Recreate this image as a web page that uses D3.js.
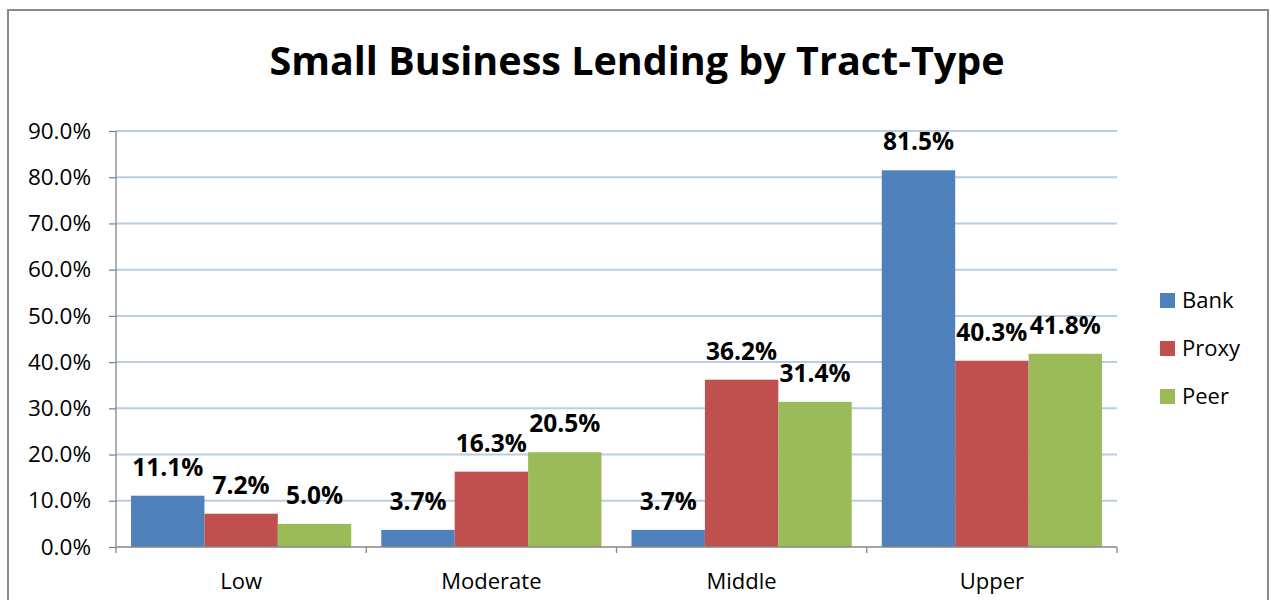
<!DOCTYPE html>
<html>
<head>
<meta charset="utf-8">
<script src="https://cdn.jsdelivr.net/npm/d3@7"></script>
<style>
  html, body { margin: 0; padding: 0; background: #ffffff; }
  svg { display: block; }
  text { font-family: "Open Sans", "Noto Sans", sans-serif; fill: #000; }
</style>
</head>
<body>
<svg id="chart" width="1271" height="600"></svg>
<script>
// Tract-type categories and lending shares per series
const categories = ["Low", "Moderate", "Middle", "Upper"];
const seriesNames = ["Bank", "Proxy", "Peer"];
const bankValues  = [11.1, 3.7, 3.7, 81.5];
const proxyValues = [7.2, 16.3, 36.2, 40.3];
const peerValues  = [5.0, 20.5, 31.4, 41.8];
const yTicks = [0, 10, 20, 30, 40, 50, 60, 70, 80, 90];
const seriesColors = ["#4F81BD", "#C0504D", "#9BBB59"];

const seriesValues = [bankValues, proxyValues, peerValues];
const rows = categories.map((c, i) => ({
  category: c,
  values: seriesNames.map((s, j) => ({ series: s, value: seriesValues[j][i] }))
}));

const svg = d3.select("#chart");

// Chart frame
svg.append("rect")
  .attr("x", 8).attr("y", 10)
  .attr("width", 1260).attr("height", 600)
  .attr("fill", "none")
  .attr("stroke", "#8a8a8a")
  .attr("stroke-width", 2);

// Title
svg.append("text")
  .attr("x", 637).attr("y", 75)
  .attr("text-anchor", "middle")
  .style("font-size", "39.5px")
  .style("font-weight", "700")
  .text("Small Business Lending by Tract-Type");

const plot = { left: 116, right: 1117, top: 131, bottom: 547 };

const x = d3.scaleBand().domain(categories).range([plot.left, plot.right]).padding(0);
const x1 = d3.scaleBand().domain(seriesNames)
  .range([x.bandwidth() * 0.06, x.bandwidth() * 0.94]).padding(0);
const y = d3.scaleLinear().domain([0, 90]).range([plot.bottom, plot.top]);
const color = d3.scaleOrdinal().domain(seriesNames).range(seriesColors);

// Horizontal gridlines
svg.append("g")
  .selectAll("line")
  .data(yTicks.filter(t => t > 0))
  .join("line")
  .attr("x1", plot.left).attr("x2", plot.right)
  .attr("y1", d => y(d)).attr("y2", d => y(d))
  .attr("stroke", "#B9CDE5")
  .attr("stroke-width", 2);

// Y axis
const yAxis = svg.append("g")
  .attr("transform", `translate(${plot.left},0)`)
  .call(d3.axisLeft(y).tickValues(yTicks).tickSize(7).tickPadding(18)
    .tickFormat(d => d.toFixed(1) + "%"));
yAxis.select(".domain").attr("stroke", "#868686").attr("stroke-width", 1.3)
  .attr("d", `M0,${plot.top}V${plot.bottom + 6}`);
yAxis.selectAll(".tick line").attr("stroke", "#868686").attr("stroke-width", 1.3);
yAxis.selectAll(".tick text")
  .style("font-size", "22.5px")
  .style("font-family", "'Open Sans', sans-serif")
  .attr("fill", "#000");

// Bars
const groups = svg.append("g")
  .selectAll("g")
  .data(rows)
  .join("g")
  .attr("transform", d => `translate(${x(d.category)},0)`);

groups.selectAll("rect")
  .data(d => d.values)
  .join("rect")
  .attr("x", d => x1(d.series))
  .attr("width", x1.bandwidth())
  .attr("y", d => y(d.value))
  .attr("height", d => y(0) - y(d.value))
  .attr("fill", d => color(d.series));

// Value labels
groups.selectAll("text.value")
  .data(d => d.values)
  .join("text")
  .attr("class", "value")
  .attr("x", d => x1(d.series) + x1.bandwidth() / 2)
  .attr("y", d => y(d.value) - 20)
  .attr("text-anchor", "middle")
  .style("font-size", "24.5px")
  .style("font-weight", "700")
  .text(d => d.value.toFixed(1) + "%");

// X axis
const xAxis = svg.append("g")
  .attr("transform", `translate(0,${plot.bottom})`);
xAxis.append("line")
  .attr("x1", plot.left).attr("x2", plot.right)
  .attr("y1", 0).attr("y2", 0)
  .attr("stroke", "#868686").attr("stroke-width", 1.3);
xAxis.selectAll("line.tick")
  .data(categories.slice(1).map(c => x(c)).concat([plot.right]))
  .join("line")
  .attr("class", "tick")
  .attr("x1", d => d).attr("x2", d => d)
  .attr("y1", 0).attr("y2", 6)
  .attr("stroke", "#868686").attr("stroke-width", 1.3);
xAxis.selectAll("text")
  .data(categories)
  .join("text")
  .attr("x", d => x(d) + x.bandwidth() / 2)
  .attr("y", 42)
  .attr("text-anchor", "middle")
  .style("font-size", "22px")
  .text(d => d);

// Legend
const legend = svg.append("g")
  .selectAll("g")
  .data(seriesNames)
  .join("g")
  .attr("transform", (d, i) => `translate(1160,${300 + i * 48})`);
legend.append("rect")
  .attr("x", 0).attr("y", -7)
  .attr("width", 15).attr("height", 15)
  .attr("fill", d => color(d));
legend.append("text")
  .attr("x", 22).attr("y", 8)
  .style("font-size", "22px")
  .text(d => d);
</script>
</body>
</html>
